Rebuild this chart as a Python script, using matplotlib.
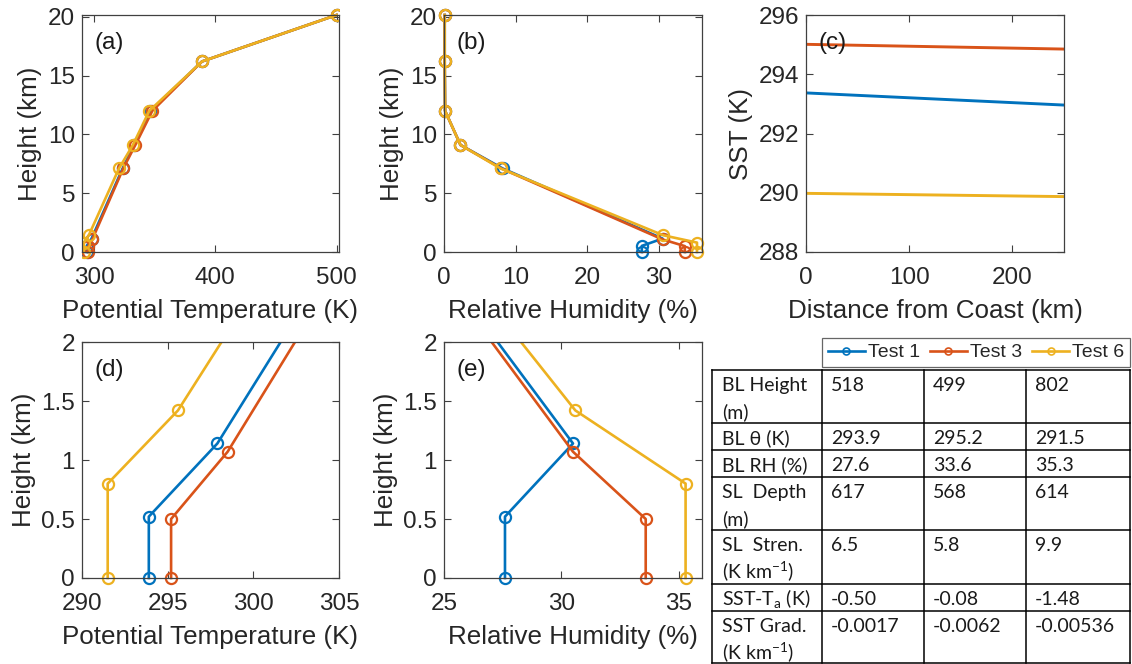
import matplotlib
matplotlib.use("Agg")
import matplotlib.pyplot as plt
from matplotlib.lines import Line2D
from matplotlib.ticker import FuncFormatter
import matplotlib.transforms as mtransforms

# ---------------- data ----------------
tests = ["Test 1", "Test 3", "Test 6"]
colors = ["#0072BD", "#D95319", "#EDB120"]

height_t1 = [0, 0.52, 1.14, 7.1, 9.1, 12.0, 16.2, 20.15]
height_t3 = [0, 0.50, 1.07, 7.1, 9.1, 12.0, 16.2, 20.15]
height_t6 = [0, 0.80, 1.42, 7.1, 9.1, 12.0, 16.2, 20.15]

theta_t1 = [293.9, 293.9, 297.9, 323.5, 333.0, 346.5, 389.0, 500.0]
theta_t3 = [295.2, 295.2, 298.5, 324.0, 334.0, 348.0, 389.0, 500.0]
theta_t6 = [291.5, 291.5, 295.6, 320.5, 332.0, 345.5, 389.0, 500.0]

rh_t1 = [27.6, 27.6, 30.5, 8.2, 2.3, 0.15, 0.1, 0.1]
rh_t3 = [33.6, 33.6, 30.5, 8.0, 2.3, 0.15, 0.1, 0.1]
rh_t6 = [35.3, 35.3, 30.6, 7.9, 2.3, 0.15, 0.1, 0.1]

dist_km = [0, 250]
sst_t1 = [293.37, 292.96]
sst_t3 = [295.01, 294.85]
sst_t6 = [289.98, 289.87]

row_labels = [["BL Height", "(m)"], ["BL \u03b8 (K)"], ["BL RH (%)"],
              ["SL  Depth", "(m)"], ["SL  Stren.", "(K km$^{-1}$)"],
              ["SST-T$_{\\mathrm{a}}$ (K)"], ["SST Grad.", "(K km$^{-1}$)"]]
vals_t1 = ["518", "293.9", "27.6", "617", "6.5", "-0.50", "-0.0017"]
vals_t3 = ["499", "295.2", "33.6", "568", "5.8", "-0.08", "-0.0062"]
vals_t6 = ["802", "291.5", "35.3", "614", "9.9", "-1.48", "-0.00536"]

# ---------------- style ----------------
plt.rcParams['font.family'] = ['Liberation Sans', 'DejaVu Sans']
plt.rcParams['mathtext.fontset'] = 'custom'
plt.rcParams['mathtext.rm'] = 'Lato'
plt.rcParams['mathtext.it'] = 'Lato:italic'
plt.rcParams['mathtext.bf'] = 'Lato:bold'

W, H = 1132, 664
fig = plt.figure(figsize=(W / 100, H / 100), dpi=100)

AX_COL = '#404040'
TXT_COL = '#262626'
TICK_FS = 17.5
LAB_FS = 18.7
LW = 1.9
MS = 8


def add_ax(l, t, r, b):
    return fig.add_axes([l / W, 1 - b / H, (r - l) / W, (b - t) / H])


def style(ax, xlim, ylim, xticks, yticks, xlabel, ylabel, tag):
    ax.set_xlim(*xlim)
    ax.set_ylim(*ylim)
    ax.set_xticks(xticks)
    ax.set_yticks(yticks)
    fmt = FuncFormatter(lambda v, p: '%g' % v)
    ax.xaxis.set_major_formatter(fmt)
    ax.yaxis.set_major_formatter(fmt)
    ax.tick_params(direction='in', top=True, right=True, length=5, width=0.8,
                   colors=AX_COL, labelcolor=TXT_COL, labelsize=TICK_FS, pad=5)
    ax.tick_params(axis='x', pad=11)
    for s in ax.spines.values():
        s.set_color(AX_COL)
        s.set_linewidth(0.9)
    ax.set_xlabel(xlabel, fontsize=LAB_FS, color=TXT_COL, labelpad=7)
    ax.set_ylabel(ylabel, fontsize=LAB_FS, color=TXT_COL, labelpad=4)
    ax.text(0.05, 0.88, tag, transform=ax.transAxes, fontsize=TICK_FS,
            color='#1a1a1a', ha='left', va='center')


heights = [height_t1, height_t3, height_t6]
thetas = [theta_t1, theta_t3, theta_t6]
rhs = [rh_t1, rh_t3, rh_t6]
ssts = [sst_t1, sst_t3, sst_t6]

mk = dict(marker='o', markersize=MS, markerfacecolor='none', markeredgewidth=1.6,
          linewidth=LW)


def clip_lines(ax, x0, y0, x1, y1):
    bb = mtransforms.TransformedBbox(mtransforms.Bbox([[x0, y0], [x1, y1]]), ax.transAxes)
    for l in ax.lines:
        l.set_clip_on(True)
        l.set_clip_box(bb)


# (a)
ax_a = add_ax(82, 15, 339, 252)
for th, h, c in zip(thetas, heights, colors):
    ax_a.plot(th, h, color=c, **mk)
style(ax_a, (290, 502), (0, 20.15), [300, 400, 500], [0, 5, 10, 15, 20],
      'Potential Temperature (K)', 'Height (km)', '(a)')
clip_lines(ax_a, 0, -0.1, 1.0, 1.05)

# (b)
ax_b = add_ax(444, 15, 702, 252)
for r, h, c in zip(rhs, heights, colors):
    ax_b.plot(r, h, color=c, **mk)
style(ax_b, (0, 36), (0, 20.15), [0, 10, 20, 30], [0, 5, 10, 15, 20],
      'Relative Humidity (%)', 'Height (km)', '(b)')
clip_lines(ax_b, -0.1, -0.1, 1.1, 1.1)

# (c)
ax_c = add_ax(806, 15, 1064, 252)
for s, c in zip(ssts, colors):
    ax_c.plot(dist_km, s, color=c, linewidth=2.1)
style(ax_c, (0, 250), (288, 296), [0, 100, 200], [288, 290, 292, 294, 296],
      'Distance from Coast (km)', 'SST (K)', '(c)')

# (d)
ax_d = add_ax(82, 342, 339, 578)
for th, h, c in zip(thetas, heights, colors):
    ax_d.plot(th, h, color=c, **mk)
style(ax_d, (290, 305), (0, 2), [290, 295, 300, 305], [0, 0.5, 1, 1.5, 2],
      'Potential Temperature (K)', 'Height (km)', '(d)')
clip_lines(ax_d, 0, -0.1, 1, 1)

# (e)
ax_e = add_ax(444, 342, 702, 578)
for r, h, c in zip(rhs, heights, colors):
    ax_e.plot(r, h, color=c, **mk)
style(ax_e, (25, 36), (0, 2), [25, 30, 35], [0, 0.5, 1, 1.5, 2],
      'Relative Humidity (%)', 'Height (km)', '(e)')
clip_lines(ax_e, 0, -0.1, 1, 1)

# ---------------- table ----------------
tab = fig.add_axes([0, 0, 1, 1], zorder=5)
tab.set_xlim(0, W)
tab.set_ylim(H, 0)
tab.axis('off')
tab.patch.set_alpha(0)

col_x = [712, 822, 924, 1026, 1130]
row_y = [370, 423, 450, 477, 530, 584, 611, 663]
TLW = 1.1
for x in col_x:
    tab.plot([x, x], [row_y[0], row_y[-1]], color='black', lw=TLW)
for y in row_y:
    tab.plot([col_x[0], col_x[-1]], [y, y], color='black', lw=TLW)

TFS = 14
tfont = ['Lato', 'DejaVu Sans']
cols_vals = [vals_t1, vals_t3, vals_t6]
for i, lab in enumerate(row_labels):
    top = row_y[i]
    for j, line in enumerate(lab):
        tab.text(col_x[0] + 10, top + 15 + 27 * j + 6, line, fontsize=TFS,
                 family=tfont, color='#1a1a1a', ha='left', va='baseline')
    for k, vals in enumerate(cols_vals):
        tab.text(col_x[k + 1] + 9, top + 15 + 6, vals[i], fontsize=TFS,
                 family=tfont, color='#1a1a1a', ha='left', va='baseline')

# legend box
handles = [Line2D([0], [0], color=c, lw=LW, marker='o', markersize=5,
                  markerfacecolor='none', markeredgewidth=1.2) for c in colors]
leg = fig.legend(handles, tests, loc='center',
                 bbox_to_anchor=(822 / W, 1 - 368 / H, 308 / W, 31 / H),
                 ncol=3, frameon=True, fancybox=False, fontsize=14,
                 handlelength=1.9, handletextpad=0.15, columnspacing=0.3,
                 borderpad=0.3, borderaxespad=0, mode='expand')
leg.get_frame().set_edgecolor('#404040')
leg.get_frame().set_linewidth(0.9)
for t in leg.get_texts():
    t.set_color(TXT_COL)

fig.savefig('out.png', dpi=100)
